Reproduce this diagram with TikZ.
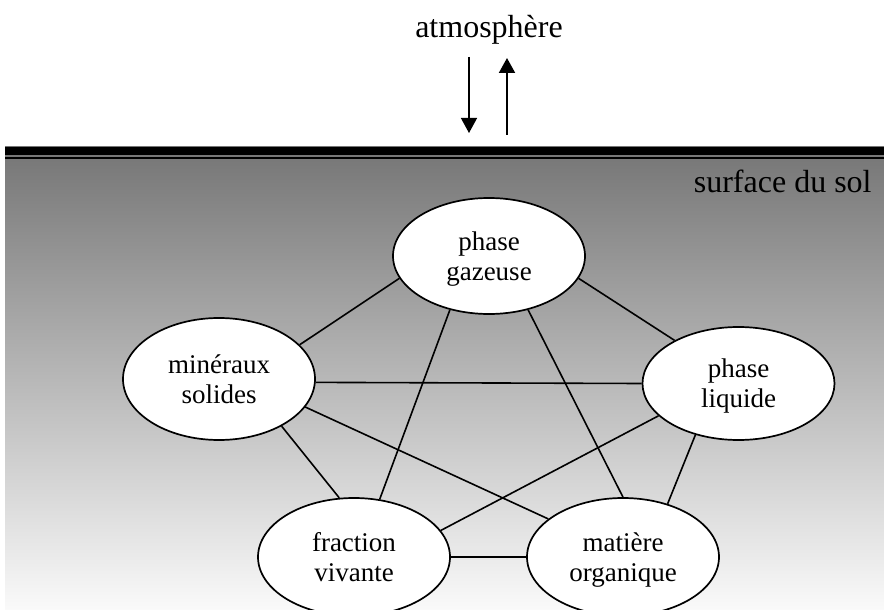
\documentclass[tikz,border=0pt]{standalone}
\usepackage{fontspec}
\setmainfont{Liberation Serif}
\usetikzlibrary{shapes.geometric,arrows.meta}

\begin{document}
\begin{tikzpicture}[x=0.5pt,y=-0.5pt,
  phasebox/.style={ellipse, draw=black, line width=0.85pt, fill=white,
    inner sep=0pt, minimum width=96pt, minimum height=#1, align=center,
    text depth=0pt, font=\fontsize{13.5}{15}\selectfont},
  link/.style={line width=0.8pt},
  flux/.style={-{Triangle[width=8pt,length=7.5pt]}},
  bigtext/.style={font=\fontsize{16}{19}\selectfont, inner sep=0pt}]
\useasboundingbox (0,0) rectangle (884,610);

% soil body with its surface
\shade[top color=black!54, bottom color=black!2] (5,147) rectangle (884,610);
\fill[black] (5,147) rectangle (884,155);
\fill[black] (5,157.5) rectangle (884,159.5);

% labels
\node[bigtext, anchor=base] (atm) at (489,38) {atmosphère};
\node[bigtext, anchor=base east] (sol) at (872,192) {surface du sol};

% exchanges with the atmosphere
\coordinate (downtop) at (469,57);
\coordinate (downend) at (469,133);
\coordinate (uptop) at (507,58);
\coordinate (upend) at (507,135);
\draw[flux, line width=0.65pt] (downtop) -- (downend);
\draw[flux, line width=1pt] (upend) -- (uptop);

% the five soil phases
\node[phasebox=58pt] (gaz) at (489,256) {phase\\gazeuse};
\node[phasebox=61pt] (min) at (219,379) {minéraux\\solides};
\node[phasebox=56.5pt] (liq) at (738.5,383.5) {phase\\liquide};
\node[phasebox=59pt] (viv) at (354,557) {fraction\\vivante};
\node[phasebox=59pt] (org) at (623,557) {matière\\organique};

% interactions between every pair of phases
\draw[link] (min.23) -- (gaz.194);
\draw[link] (min.358) -- (liq.180);
\draw[link] (min.342) -- (org.153);
\draw[link] (min.323) -- (viv.104);
\draw[link] (gaz.346) -- (liq.146);
\draw[link] (gaz.234) -- (viv.66);
\draw[link] (gaz.306) -- (org.90);
\draw[link] (liq.202) -- (viv.17);
\draw[link] (liq.230) -- (org.50);
\draw[link] (viv.0) -- (org.180);
\end{tikzpicture}
\end{document}
